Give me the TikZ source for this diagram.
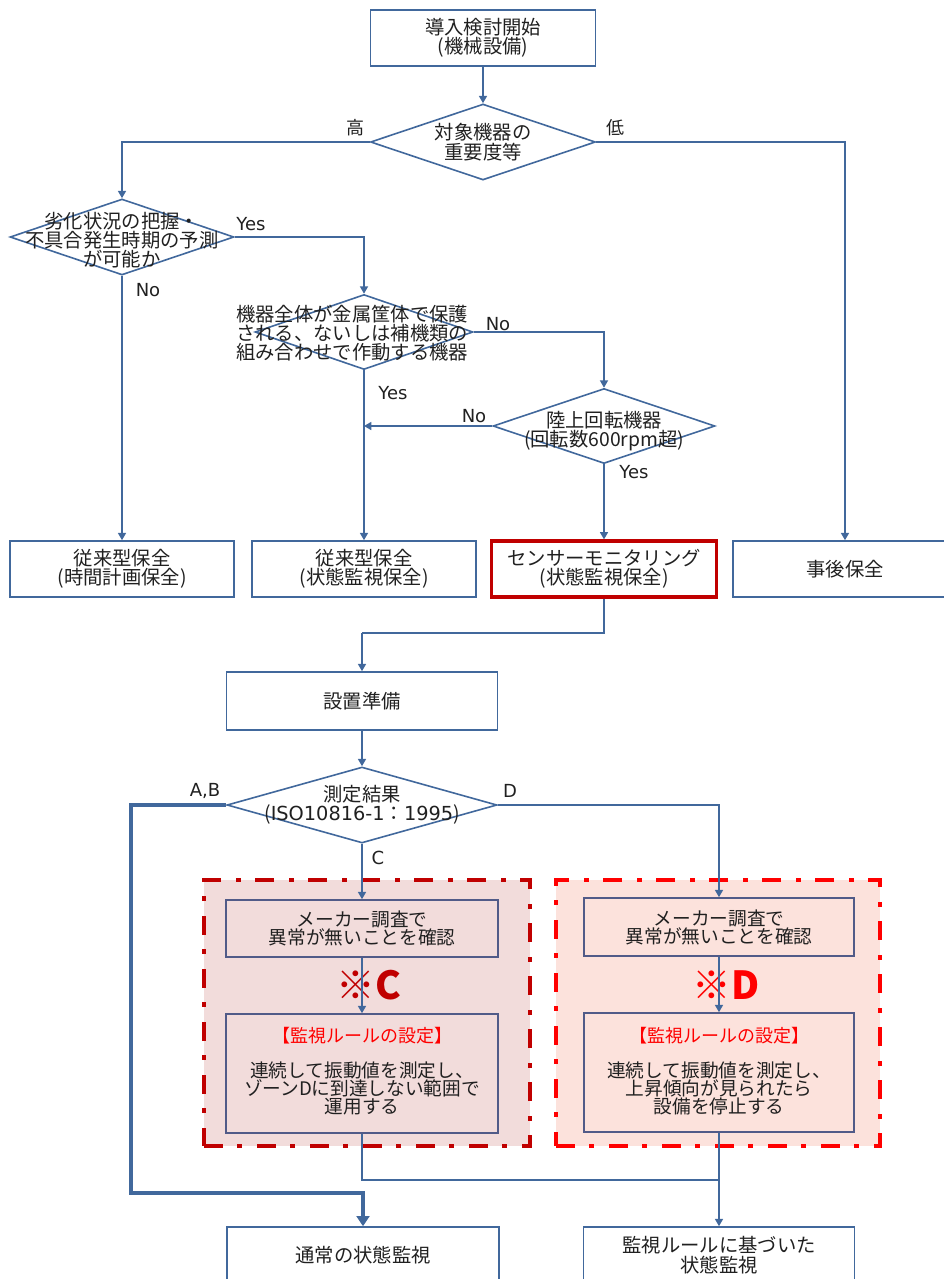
\documentclass[tikz,border=0pt]{standalone}
\usepackage{fontspec}
\setmainfont{Noto Sans CJK JP}
\newfontfamily\latfont{DejaVu Sans}
\usetikzlibrary{shapes.geometric,arrows.meta}
\definecolor{lineblue}{HTML}{41689C}
\definecolor{innerblue}{HTML}{515B88}
\definecolor{textc}{HTML}{202020}
\definecolor{darkred}{HTML}{C00000}
\definecolor{brightred}{HTML}{FF0000}
\definecolor{fillC}{HTML}{F2DCDB}
\definecolor{fillD}{HTML}{FCE2DC}
\newcommand\mainsz{\fontsize{14.5}{14.5}\selectfont}
\newcommand\grpsz{\fontsize{14}{13.5}\selectfont}
\newcommand\hdrsz{\fontsize{13.5}{13.5}\selectfont}
\newcommand\lblsz{\fontsize{13.5}{13.5}\selectfont}
\newcommand\bigsz{\fontsize{29}{29}\selectfont}
\begin{document}
\begin{tikzpicture}[x=0.75pt,y=-0.75pt,
  sz/.style 2 args={minimum width=#1*0.75pt,minimum height=#2*0.75pt},
  box/.style={draw=lineblue,line width=1.2pt,inner sep=0pt,align=center,font=\mainsz,text=textc},
  redbox/.style={draw=darkred,line width=2.4pt,inner sep=0pt,align=center,font=\mainsz,text=textc},
  inbox/.style={draw=innerblue,line width=1.2pt,inner sep=0pt,align=center,font=\grpsz,text=textc},
  dia/.style={diamond,draw=lineblue,line width=1.2pt,inner sep=0pt},
  txt/.style={inner sep=0pt,align=center,font=\mainsz,text=textc},
  lbl/.style={inner sep=0pt,font=\lblsz,text=textc},
  latlbl/.style={inner sep=0pt,font=\lblsz\latfont,text=textc},
  line/.style={draw=lineblue,line width=1.2pt},
  conn/.style={draw=lineblue,line width=1.2pt,-{Triangle[width=6pt,length=5.5pt]}},
  thickconn/.style={draw=lineblue,line width=3.2pt,-{Triangle[width=9.5pt,length=7.5pt]}},
  grpbox/.style={line width=3pt,dash pattern=on 14pt off 11pt on 3.75pt off 11pt,inner sep=0pt},
  bigmark/.style={inner sep=0pt,font=\bigsz\bfseries}
]
\useasboundingbox (0,0) rectangle (944,1279);
\clip (0,0) rectangle (944,1279);

% groups
\node[grpbox,draw=darkred,fill=fillC,sz={326}{266}] (gC) at (367,1013) {};
\node[grpbox,draw=brightred,fill=fillD,sz={324}{266}] (gD) at (718,1013) {};

% top
\node[box,sz={225}{56}] (start) at (483,38) {導入検討開始\\(機械設備)};
\node[dia,sz={225}{76}] (d1) at (483,142) {};
\node[txt] (t1) at (d1) {対象機器の\\重要度等};
\node[dia,sz={224}{76}] (d2) at (122,237) {};
\node[txt] (t2) at (122,240) {劣化状況の把握・\\不具合発生時期の予測\\が可能か};
\node[dia,sz={218}{75}] (d3) at (364,332) {};
\node[txt] (t3) at (352,333) {機器全体が金属筐体で保護\\される、ないしは補機類の\\組み合わせで作動する機器};
\node[dia,sz={222}{75}] (d4) at (604,426) {};
\node[txt] (t4) at (604,431) {陸上回転機器\\(回転数600rpm超)};

% row of results
\node[box,sz={224}{56}] (bA) at (122,569) {従来型保全\\(時間計画保全)};
\node[box,sz={224}{56}] (bB) at (364,569) {従来型保全\\(状態監視保全)};
\node[redbox,sz={225}{56}] (bC) at (604,569) {センサーモニタリング\\(状態監視保全)};
\node[box,sz={224}{56}] (bD) at (845,569) {事後保全};

% lower part
\node[box,sz={271}{58}] (prep) at (362,701) {設置準備};
\node[dia,sz={270}{76}] (d5) at (362,805) {};
\node[txt] (t5) at (362,805) {測定結果\\({\latfont ISO10816-1}：{\latfont 1995})};

\node[inbox,sz={272}{57}] (c1) at (362,928.5) {メーカー調査で\\異常が無いことを確認};
\node[inbox,sz={272}{119}] (c2) at (362,1073.5) {};
\node[inner sep=0pt,font=\hdrsz,text=brightred] (c2h) at (362,1036) {【監視ルールの設定】};
\node[inner sep=0pt,align=center,font=\grpsz,text=textc] (c2b) at (362,1088) {連続して振動値を測定し、\\ゾーンDに到達しない範囲で\\運用する};
\node[bigmark,text=darkred] (mC) at (369,985) {※C};

\node[inbox,sz={270}{58}] (e1) at (719,927) {メーカー調査で\\異常が無いことを確認};
\node[inbox,sz={270}{119}] (e2) at (719,1072.5) {};
\node[inner sep=0pt,font=\hdrsz,text=brightred] (e2h) at (719,1036) {【監視ルールの設定】};
\node[inner sep=0pt,align=center,font=\grpsz,text=textc] (e2b) at (719,1088) {連続して振動値を測定し、\\上昇傾向が見られたら\\設備を停止する};
\node[bigmark,text=brightred] (mD) at (726,985) {※D};

\node[box,sz={272}{56}] (n1) at (363,1255) {通常の状態監視};
\node[box,sz={271}{56}] (n2) at (719,1255) {監視ルールに基づいた\\状態監視};

% labels
\node[lbl] (lhi) at (355,128) {高};
\node[lbl] (llo) at (615,128) {低};
\node[latlbl] (ly1) at (251,224) {Yes};
\node[latlbl] (ln1) at (148,290) {No};
\node[latlbl] (ln2) at (498,324) {No};
\node[latlbl] (ly2) at (393,393) {Yes};
\node[latlbl] (ln3) at (474,416) {No};
\node[latlbl] (ly3) at (634,472) {Yes};
\node[latlbl] (lab) at (205,791) {A,B};
\node[latlbl] (ld) at (510,791) {D};
\node[latlbl] (lc) at (378,858) {C};

% coordinates
\coordinate (j1) at (604,633);
\coordinate (j2) at (362,633);
\coordinate (k1) at (131,805);
\coordinate (k2) at (131,1193);
\coordinate (k3) at (363,1193);
\coordinate (m1) at (362,1180);
\coordinate (m2) at (719,1180);

% connectors
\draw[conn] (start.south) -- (d1.north);
\draw[conn] (d1.west) -| (d2.north);
\draw[conn] (d1.east) -| (bD.north);
\draw[conn] (d2.east) -| (d3.north);
\draw[conn] (d2.south) -- (bA.north);
\draw[conn] (d3.east) -| (d4.north);
\draw[conn] (d3.south) -- (bB.north);
\draw[conn] (d4.west) -- (d4.west -| d3.south);
\draw[conn] (d4.south) -- (bC.north);
\draw[line] (bC.south) -- (j1) -- (j2);
\draw[conn] (j2) -- (prep.north);
\draw[conn] (prep.south) -- (d5.north);
\draw[thickconn,line join=miter] (d5.west) -- (k1) -- (k2) -- (k3) -- (n1.north);
\draw[conn] (d5.east) -| (e1.north);
\draw[conn] (d5.south) -- (c1.north);
\draw[conn] (c1.south) -- (c2.north);
\draw[conn] (e1.south) -- (e2.north);
\draw[line] (c2.south) -- (m1) -- (m2);
\draw[conn] (e2.south) -- (n2.north);
\end{tikzpicture}
\end{document}
